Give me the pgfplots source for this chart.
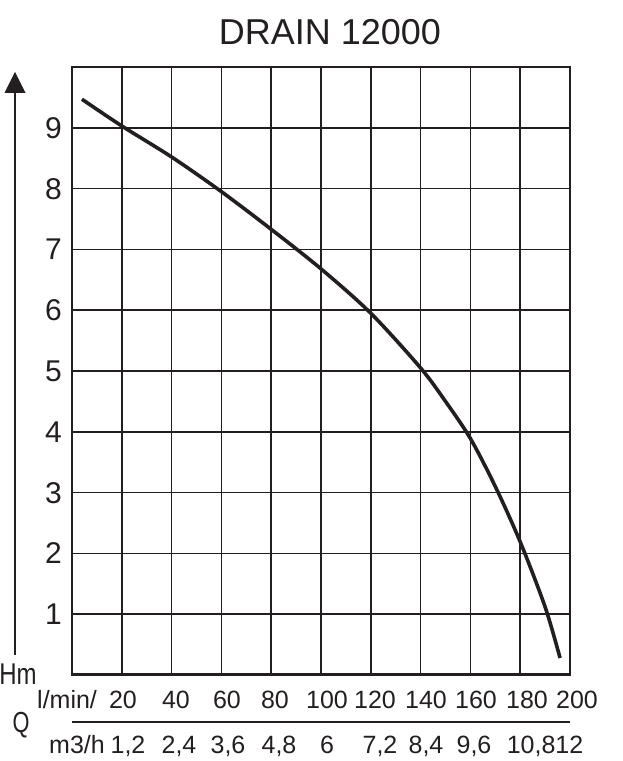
\documentclass[border=0pt]{standalone}
\usepackage{pgfplots}
\pgfplotsset{compat=1.18}
\usepackage{fontspec}
\setmainfont{Liberation Sans}
\definecolor{ink}{HTML}{231F20}
\begin{document}
\begin{tikzpicture}[x=1pt,y=1pt]
\useasboundingbox (0,0) rectangle (623,761);
\begin{axis}[
  at={(72pt,86pt)}, anchor=south west,
  scale only axis, width=498pt, height=608pt,
  xmin=0, xmax=200, ymin=0, ymax=10,
  xtick={0,20,40,60,80,100,120,140,160,180,200},
  ytick={0,1,2,3,4,5,6,7,8,9,10},
  xticklabels={}, yticklabels={},
  grid=major,
  major grid style={line width=1.6pt, draw=ink},
  axis line style={line width=1.6pt, draw=ink},
  tick style={draw=none},
  clip=false,
]
\addplot[ink, line width=3.6pt, smooth] coordinates {
  (4,9.47) (20,9.03) (40,8.52) (60,7.95) (80,7.33) (100,6.68)
  (120,5.95) (140,5.05) (150,4.50) (160,3.89) (170,3.10) (180,2.19)
  (190,1.12) (196,0.28)
};
\end{axis}
% thicker bottom axis line
\draw[ink, line width=3pt] (71,86) -- (571,86);
% title
\node[anchor=base, inner sep=0, font=\fontsize{36}{36}\selectfont, text=ink] at (330,716) {DRAIN 12000};
% y tick labels
\foreach \h in {1,...,9} {
  \node[anchor=base east, inner sep=0, font=\fontsize{30}{30}\selectfont, text=ink] at (62,{86+60.8*\h-10.5}) {\h};
}
% vertical arrow
\draw[ink, line width=2pt] (15,106) -- (15,670);
\fill[ink] (15,689) -- (4.5,668) -- (25.5,668) -- cycle;
\node[anchor=base, inner sep=0, font=\fontsize{30}{30}\selectfont, text=ink, xscale=0.8] at (18,76) {Hm};
\node[anchor=base, inner sep=0, font=\fontsize{29}{29}\selectfont, text=ink, xscale=0.75] at (21,28) {Q};
% x labels row 1
\node[anchor=base west, inner sep=0, font=\fontsize{25}{25}\selectfont, text=ink] at (37,52) {l/min/};
\foreach \x/\t in {123/20,176/40,227/60,275/80,327/100,375/120,426/140,476/160,527/180,577/200} {
  \node[anchor=base, inner sep=0, font=\fontsize{25}{25}\selectfont, text=ink] at (\x,52) {\t};
}
\draw[ink, line width=1.6pt] (72,39) -- (570,39);
% x labels row 2
\node[anchor=base west, inner sep=0, font=\fontsize{25}{25}\selectfont, text=ink] at (49,8) {m3/h};
\foreach \x/\t in {128/{1,2},179/{2,4},228/{3,6},279/{4,8},327/6,380/{7,2},426/{8,4},474/{9,6},545/{10,812}} {
  \node[anchor=base, inner sep=0, font=\fontsize{25}{25}\selectfont, text=ink] at (\x,8) {\t};
}
\end{tikzpicture}
\end{document}
